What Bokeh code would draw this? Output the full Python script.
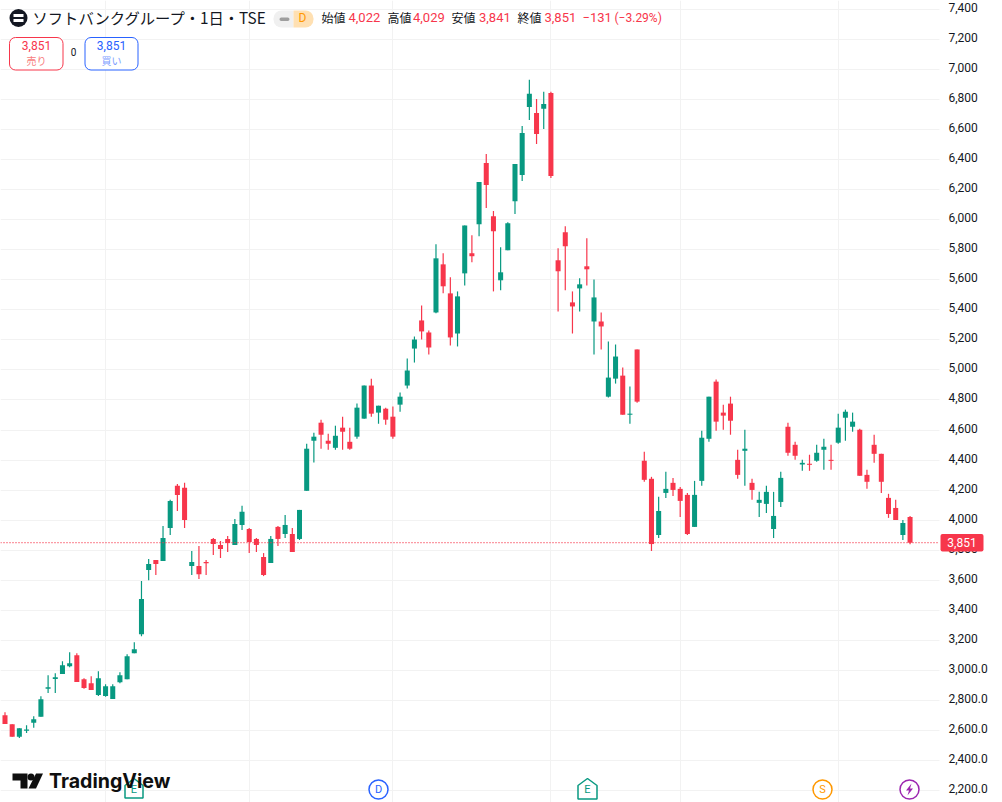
from bokeh.plotting import figure
from bokeh.embed import file_html
from bokeh.resources import INLINE
from bokeh.models import (ColumnDataSource, FixedTicker, BoxAnnotation,
                          Label, PolyAnnotation, Range1d)

opens = [2704,2644,2560,2601,2653,2693,2879,2945,2978,3029,
 3103,2943,2916,2839,2832,2812,2923,2943,3116,3242,
 3669,3736,3729,3949,4229,4216,3696,3696,3722,3876,
 3836,3876,3836,3969,3942,3876,3756,3716,3956,3909,
 3909,3876,4196,4529,4649,4529,4482,4616,4522,4556,
 4676,4896,4716,4742,4689,4769,4896,5142,5329,5249,
 5382,5702,5509,5242,5642,5776,5969,6376,6022,5596,
 5796,6122,6296,6749,6709,6736,6842,5729,5916,5449,
 5542,5689,5322,5322,4822,4942,4962,4702,5136,4396,
 4276,3902,4182,4249,4209,4169,3956,4262,4542,4922,
 4716,4776,4402,4462,4249,4116,4109,3942,4122,4622,
 4502,4371,4376,4396,4469,4402,4516,4682,4622,4602,
 4302,4502,4442,4149,4082,3902,4022]
closes = [2646,2560,2617,2608,2677,2810,2890,2956,3036,3049,
 2925,2885,2872,2950,2897,2897,2970,3096,3142,3476,
 3709,3709,3882,4129,4169,4002,3722,3642,3715,3842,
 3809,3849,3976,4056,3856,3836,3636,3876,3876,3969,
 3789,4069,4476,4556,4569,4509,4562,4589,4476,4749,
 4896,4709,4762,4669,4556,4822,4996,5202,5256,5149,
 5742,5556,5216,5489,5960,5756,6249,6229,5922,5649,
 5976,6369,6576,6836,6569,6769,6289,5656,5822,5422,
 5569,5669,5482,5289,4949,5089,4702,4709,4789,4269,
 3842,4062,4209,4202,4129,3909,4169,4549,4822,4656,
 4696,4662,4302,4476,4202,4136,4189,4029,4282,4449,
 4429,4382,4369,4449,4489,4395,4616,4722,4656,4296,
 4256,4442,4256,4042,4002,3982,3851]
highs = [2724,2644,2617,2637,2697,2830,2970,2983,3063,3122,
 3116,2950,2963,2996,2910,2910,2990,3109,3189,3596,
 3742,3736,3962,4136,4242,4249,3796,3829,3736,3882,
 3862,3896,4009,4096,3949,3882,3782,3896,3962,4036,
 3949,4069,4509,4582,4669,4576,4629,4689,4616,4776,
 4896,4942,4762,4749,4756,4849,5076,5222,5429,5262,
 5836,5776,5616,5522,5960,5896,6249,6436,6056,5816,
 5982,6369,6622,6929,6802,6849,6849,5809,5956,5522,
 5609,5876,5602,5382,5189,5169,5016,4889,5136,4456,
 4289,4156,4322,4282,4222,4182,4262,4596,4822,4936,
 4769,4822,4469,4602,4276,4189,4229,4189,4322,4649,
 4522,4402,4436,4502,4542,4502,4709,4736,4716,4609,
 4336,4569,4442,4176,4136,4002,4029]
lows = [2646,2560,2553,2586,2620,2693,2852,2852,2978,3023,
 2925,2879,2872,2832,2826,2812,2916,2943,3116,3229,
 3602,3636,3729,3902,4062,3949,3636,3609,3636,3769,
 3749,3789,3836,3936,3782,3789,3629,3716,3829,3882,
 3789,3869,4196,4385,4476,4469,4469,4469,4469,4542,
 4676,4689,4642,4636,4542,4722,4876,5049,5202,5102,
 5376,5509,5162,5156,5562,5716,5889,6076,5522,5529,
 5796,6036,6256,6662,6502,6602,6276,5389,5529,5242,
 5389,5562,5102,5136,4816,4909,4702,4642,4782,4256,
 3796,3882,4149,4162,4022,3902,3956,4229,4522,4596,
 4602,4569,4276,4229,4136,4022,4049,3882,4089,4429,
 4402,4329,4329,4389,4336,4336,4509,4529,4589,4296,
 4209,4382,4182,4016,4002,3869,3841]

y_ticks = [2200,2400,2600,2800,3000,3200,3400,3600,3800,4000,4200,4400,4600,4800,
           5000,5200,5400,5600,5800,6000,6200,6400,6600,6800,7000,7200,7400]
y_tick_labels = ["2,200.0","2,400.0","2,600.0","2,800.0","3,000.0","3,200","3,400","3,600","3,800",
                 "4,000","4,200","4,400","4,600","4,800","5,000","5,200","5,400","5,600","5,800",
                 "6,000","6,200","6,400","6,600","6,800","7,000","7,200","7,400"]
x_grid_bars = [14, 34, 54, 76, 94, 116]
last_price = 3851

UP, DOWN = "#089981", "#F7364B"
INK = "#131722"
GRID = "#F2F2F2"
W, H = 1002, 802
PX_PER_BAR, PX_PER_YEN = 7.183, 0.15038
X0 = -4.5 / PX_PER_BAR
Y_TOP = 7400 + 8.5 / PX_PER_YEN
PLOT_RIGHT = 939
LABEL_LIFT = 2

def X(px):
    return X0 + px / PX_PER_BAR
def Y(py):
    return Y_TOP - py / PX_PER_YEN

idx = list(range(len(opens)))
src = ColumnDataSource(dict(
    x=idx, open=opens, close=closes, high=highs, low=lows,
    top=[max(o, c) for o, c in zip(opens, closes)],
    bottom=[min(o, c) for o, c in zip(opens, closes)],
    color=[UP if c >= o else DOWN for o, c in zip(opens, closes)],
))

p = figure(width=W, height=H, output_backend="svg", toolbar_location=None,
           x_range=(X(0), X(W)), y_range=(Y(H), Y(0)),
           x_axis_location=None, y_axis_location="right",
           min_border_left=0, min_border_top=0, min_border_bottom=0, min_border_right=0,
           margin=0)
p.outline_line_color = None
p.background_fill_color = "white"
p.border_fill_color = "white"
p.extra_y_ranges = {"scale": Range1d(Y(H + LABEL_LIFT), Y(LABEL_LIFT))}

p.ygrid.grid_line_color = GRID
p.ygrid.ticker = FixedTicker(ticks=y_ticks)
p.xgrid.ticker = FixedTicker(ticks=x_grid_bars)
p.xgrid.grid_line_color = GRID
# the price scale column: keeps the grid from running under the axis labels
p.add_layout(BoxAnnotation(left=X(PLOT_RIGHT), right=X(W), top=Y(0), bottom=Y(H), fill_color="white",
                           fill_alpha=1, line_color=None, level="underlay"))

ax = p.yaxis[0]
ax.y_range_name = "scale"
ax.fixed_location = X(PLOT_RIGHT)
ax.ticker = FixedTicker(ticks=y_ticks)
ax.major_label_overrides = dict(zip(y_ticks, y_tick_labels))
ax.axis_line_color = None
ax.major_tick_line_color = None
ax.minor_tick_line_color = None
ax.major_tick_out = 0
ax.major_tick_in = 0
ax.major_label_standoff = 9
ax.major_label_text_font = "Roboto"
ax.major_label_text_font_size = "12px"
ax.major_label_text_color = INK

p.segment("x", "low", "x", "high", source=src, line_color="color", line_width=1.2)
p.vbar("x", width=0.7, top="top", bottom="bottom", source=src, fill_color="color", line_color=None)
p.line([X(0), X(PLOT_RIGHT)], [last_price, last_price], line_color=DOWN, line_width=1.3, line_dash=[1, 2])

JP = "Noto Sans CJK JP"

def text(px, py, s, color=INK, size=12, font="Roboto", align="left", style="normal", **kw):
    p.add_layout(Label(x=X(px), y=Y(py), text=s, text_color=color, text_font=font,
                       text_font_size=f"{size}px", text_align=align, text_baseline="middle",
                       text_font_style=style, **kw))

def box(x0, y0, x1, y1, fill, line=None, radius=0, lw=1):
    p.add_layout(BoxAnnotation(left=X(x0), right=X(x1), top=Y(y0), bottom=Y(y1),
                               fill_color=fill, fill_alpha=1, line_color=line, line_alpha=1,
                               line_width=lw, border_radius=radius))

def poly(pts, fill, line=None, lw=1):
    p.add_layout(PolyAnnotation(xs=[X(a) for a, b in pts], ys=[Y(b) for a, b in pts],
                                fill_color=fill, fill_alpha=1, line_color=line, line_alpha=1, line_width=lw))

# event markers along the bottom
poly([(124.5, 797.5), (124.5, 785), (133.5, 778), (142.5, 785), (142.5, 797.5)], "white", "#089981", 1.5)
text(133.5, 788.5, "E", "#089981", 11, align="center")
p.scatter([X(378)], [Y(789)], size=19, marker="circle", fill_color="white", line_color="#2962FF", line_width=1.5)
text(378, 788.5, "D", "#2962FF", 11, align="center")
poly([(577.5, 798.5), (577.5, 785), (587, 778), (596.5, 785), (596.5, 798.5)], "white", "#089981", 1.5)
text(587, 788.5, "E", "#089981", 11, align="center")
p.scatter([X(822)], [Y(789)], size=19, marker="circle", fill_color="white", line_color="#FF9800", line_width=1.5)
text(822, 788.5, "S", "#FF9800", 11, align="center")
p.scatter([X(909)], [Y(789)], size=19, marker="circle", fill_color="white", line_color="#9C27B0", line_width=1.5)
poly([(911, 783), (905.5, 790), (908.5, 790), (907, 795), (912.5, 788), (909.5, 788)], "#9C27B0")

# logo
LOGO = "#0F0F0F"
poly([(12, 773), (27, 773), (27, 788), (20, 788), (20, 780), (12, 780)], LOGO)
poly([(35.5, 773), (42.5, 773), (35.5, 788), (28, 788)], LOGO)
p.scatter([X(30.5)], [Y(776.5)], size=7, marker="circle", fill_color=LOGO, line_color=None)
text(48.5, 780.5, "TradingView", LOGO, 19.6, font="Inter", style="bold")

# header
p.scatter([X(18)], [Y(17.5)], size=18, marker="circle", fill_color=INK, line_color=None)
box(13, 13.5, 23, 16.5, "white")
box(13, 18.5, 23, 21.5, "white")
text(32, 16.5, "ソフトバンクグループ・1日・TSE", INK, 15.3, font=JP)
box(273, 10, 293, 27, "#F0F0F0", radius=(8, 0, 0, 8))
box(293, 10, 313, 27, "#FFE0B2", radius=(0, 8, 8, 0))
box(279, 17, 289, 20.5, "#9E9E9E", radius=2)
text(302, 17.5, "D", "#FF9800", 12, align="center")
for px, s in [(321, "始値"), (387, "高値"), (451, "安値"), (517, "終値")]:
    text(px, 17, s, INK, 12, font=JP)
for px, s in [(348, "4,022"), (412.5, "4,029"), (478.5, "3,841"), (544, "3,851"), (582, "−131")]:
    text(px, 17, s, DOWN, 13)
text(614, 17, "(−3.29%)", DOWN, 12)

# order buttons
box(9, 37, 62.5, 69.5, "white", DOWN, radius=6)
text(36, 45, "3,851", DOWN, 12, align="center")
text(36, 59.5, "売り", "#F77C80", 10, font=JP, align="center")
text(73, 51.5, "0", INK, 10, align="center")
box(84.5, 37, 137.5, 69.5, "white", "#2962FF", radius=6)
text(111, 45, "3,851", "#2962FF", 12, align="center")
text(111, 59.5, "買い", "#7DA0FF", 10, font=JP, align="center")

# last price tag
box(940, 533.5, 983, 551, DOWN, radius=2)
text(961.5, 541.5, "3,851", "white", 12, align="center")

open("out.html", "w").write(file_html(p, INLINE))
